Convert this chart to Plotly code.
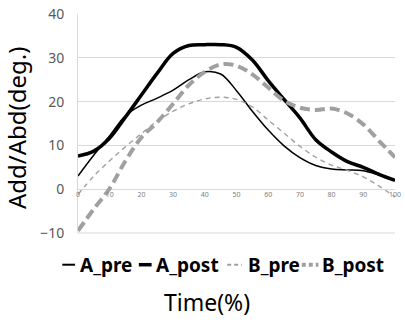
import plotly.graph_objects as go

time_pct = [0, 5, 10, 15, 20, 25, 30, 35, 40, 45, 50, 55, 60, 65, 70, 75, 80, 85, 90, 95, 100]
a_pre = [3.0, 7.8, 12.2, 16.8, 19.2, 20.8, 22.6, 25.0, 26.8, 26.3, 22.5, 17.8, 13.5, 9.9, 7.2, 5.4, 4.6, 4.4, 4.2, 3.2, 2.0]
a_post = [7.6, 8.7, 11.7, 16.5, 21.5, 26.5, 31.0, 32.8, 33.0, 33.0, 32.4, 29.5, 24.8, 20.5, 16.3, 11.3, 8.5, 6.3, 5.0, 3.4, 2.0]
b_pre = [-1.2, 3.0, 6.5, 9.7, 12.7, 15.6, 17.8, 19.5, 20.6, 21.0, 20.5, 18.8, 15.8, 12.8, 9.8, 7.3, 5.5, 4.3, 2.8, 0.7, -1.8]
b_post = [-9.5, -4.5, 0.2, 6.5, 11.8, 15.3, 19.5, 23.8, 26.8, 28.5, 28.2, 26.2, 23.2, 20.2, 18.6, 18.1, 18.4, 17.3, 14.8, 11.0, 7.3]

series_names = ["A_pre", "A_post", "B_pre", "B_post"]
x_ticks = [0, 10, 20, 30, 40, 50, 60, 70, 80, 90, 100]
y_ticks = [-10, 0, 10, 20, 30, 40]

styles = {
    "A_pre": dict(color="#000000", width=1.5, dash="solid"),
    "A_post": dict(color="#000000", width=3.5, dash="solid"),
    "B_pre": dict(color="#a0a0a0", width=1.4, dash="5px,4px"),
    "B_post": dict(color="#a0a0a0", width=4, dash="10px,5px"),
}
data = {"A_pre": a_pre, "A_post": a_post, "B_pre": b_pre, "B_post": b_post}

W, H = 405, 322
L, R, T, B = 78, 4, 12, 89
PW, PH = W - L - R, H - T - B


def px_x(p):
    return (p - L) / PW


def px_y(p):
    return (H - B - p) / PH


fig = go.Figure()
for name in series_names:
    fig.add_trace(go.Scatter(
        x=time_pct, y=data[name], mode="lines", name=name,
        line=dict(shape="spline", smoothing=1.0, **styles[name]),
        showlegend=False, hoverinfo="skip",
    ))

# manual legend
legend_items = [
    ("A_pre", 62, 75, 78),
    ("A_post", 140, 153, 155),
    ("B_pre", 230, 245, 249),
    ("B_post", 306, 323, 325),
]
ly = px_y(265)
for name, s0, s1, tx in legend_items:
    st = styles[name]
    fig.add_shape(type="line", xref="paper", yref="paper",
                  x0=px_x(s0), x1=px_x(s1), y0=ly, y1=ly,
                  line=dict(color=st["color"], width=st["width"] if st["width"] > 2 else 2,
                            dash="solid" if name.startswith("A") else "4px,3px"))
    fig.add_annotation(xref="paper", yref="paper", x=px_x(tx), y=ly,
                       text=f"<b>{name}</b>", showarrow=False, xanchor="left", yanchor="middle",
                       font=dict(family="Noto Sans", size=19, color="#000000"))

fig.add_annotation(xref="paper", yref="paper", x=px_x(209), y=px_y(303),
                   text="Time(%)", showarrow=False, xanchor="center", yanchor="middle",
                   font=dict(family="Noto Sans", size=23, color="#000000"))
fig.add_annotation(xref="paper", yref="paper", x=px_x(16), y=px_y(127),
                   text="Add/Abd(deg.)", showarrow=False, textangle=-90,
                   xanchor="center", yanchor="middle",
                   font=dict(family="Noto Sans", size=24, color="#000000"))

fig.update_layout(
    width=W, height=H,
    margin=dict(l=L, r=R, t=T, b=B),
    paper_bgcolor="white", plot_bgcolor="white",
    xaxis=dict(range=[0, 100], tickvals=x_ticks, ticktext=[str(v) for v in x_ticks],
               anchor="free", position=0.2, showgrid=False, zeroline=False, showline=False,
               ticks="", ticklabeloverflow="allow",
               tickfont=dict(family="Noto Sans", size=7, color="#808080")),
    yaxis=dict(range=[-10, 40], tickvals=y_ticks, showgrid=True, gridcolor="#d9d9d9", gridwidth=1,
               zeroline=False, showline=True, linecolor="#d9d9d9", linewidth=1,
               ticks="outside", ticklen=10, tickcolor="rgba(0,0,0,0)",
               tickfont=dict(family="Noto Sans", size=14, color="#595959")),
)
fig.add_shape(type="line", xref="paper", yref="paper", x0=0, x1=1, y0=0, y1=0,
              line=dict(color="#d9d9d9", width=1), layer="below")

fig.write_html("out.html", config={"displayModeBar": False},
               post_script="document.body.style.margin='0';")
